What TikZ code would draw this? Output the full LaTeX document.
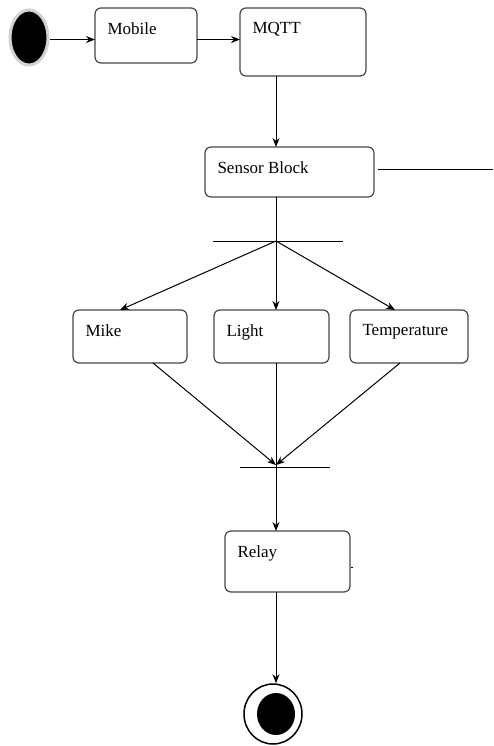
\documentclass[tikz,border=0pt]{standalone}
\usepackage{fontspec}
\newfontfamily\statefont{Liberation Serif}
\usepackage{tikz}
\usetikzlibrary{arrows.meta, shapes.geometric, calc, positioning}
\definecolor{boxgray}{RGB}{70, 70, 70}

\tikzset{
    statetext/.style={anchor=north west, inner sep=0pt, xshift=12pt, yshift=-14pt,
        font=\statefont\fontsize{17}{20}\selectfont},
    state/.style={draw=boxgray, rounded corners=6pt, inner sep=0pt, outer sep=0pt,
        line width=1.2pt, label={[statetext]north west:#1}},
}

\begin{document}
\begin{tikzpicture}[x=1pt, y=-1pt, >={Stealth[length=9pt, width=7pt]}, line width=1pt]
    \useasboundingbox (0,0) rectangle (493,746);
    % start and end points
    \node[ellipse, fill=black, draw=gray!35, line width=3pt,
        minimum width=38, minimum height=55] (start) at (29,37.5) {};
    \node[ellipse, draw=black, line width=1.5pt,
        minimum width=58, minimum height=60] (stop) at (273,714) {};
    \node[ellipse, fill=black, minimum width=38, minimum height=42] (stopdot) at (276,714) {};
    % states
    \node[state=Mobile, minimum width=102, minimum height=55] (mobile) at (146,35.5) {};
    \node[state=MQTT, minimum width=126, minimum height=68] (mqtt) at (303,42) {};
    \node[state=Sensor Block, minimum width=169, minimum height=50] (sensor) at (289.5,172) {};
    \node[state=Mike, minimum width=114, minimum height=53] (mike) at (130,336.5) {};
    \node[state=Light, minimum width=115, minimum height=53] (light) at (271.5,336.5) {};
    \node[state=Temperature, minimum width=118, minimum height=53] (temp) at (409,336.5) {};
    \node[state=Relay, minimum width=125, minimum height=61] (relay) at (287.5,561.5) {};
    % fork / join bars
    \coordinate (fork) at (276,241);
    \coordinate (join) at (276,467);
    \coordinate (offpage) at (493,170);
    \draw ($(fork)+(-63,0)$) -- ($(fork)+(67,0)$);
    \draw ($(join)+(-36,0)$) -- ($(join)+(54,0)$);
    % flow
    \draw[->] ([yshift=-2pt]start.east) -- ([yshift=-2pt]start.east -| mobile.west);
    \draw[->] ([yshift=-4pt]mobile.east) -- ([yshift=-4pt]mobile.east -| mqtt.west);
    \draw[->] (mqtt.south -| fork) -- (sensor.north -| fork);
    \draw ([xshift=4pt, yshift=2pt]sensor.east) -- (offpage);
    \draw (sensor.south -| fork) -- (fork);
    \draw[->] (fork) -- ([xshift=-10pt]mike.north);
    \draw[->] (fork) -- (light.north -| fork);
    \draw[->] (fork) -- ([xshift=-14pt]temp.north);
    \draw[->] ([xshift=23pt]mike.south) -- ([yshift=2pt]join);
    \draw (light.south -| join) -- ([yshift=-1pt]join);
    \draw[->] ([xshift=-9pt]temp.south) -- ([yshift=2pt]join);
    \draw[->] (join) -- (relay.north -| join);
    \draw[line width=0.6pt] ([xshift=1pt, yshift=-6pt]relay.east) -- ([xshift=3pt, yshift=-6pt]relay.east);
    \draw[->] (relay.south -| join) -- (stop.north -| join);
\end{tikzpicture}
\end{document}
